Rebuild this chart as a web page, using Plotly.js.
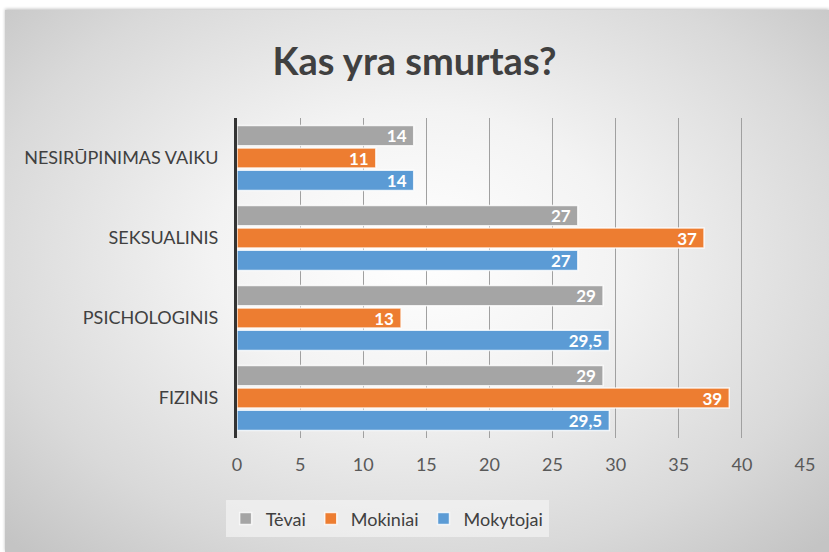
<!DOCTYPE html>
<html>
<head>
<meta charset="utf-8">
<script src="https://cdn.plot.ly/plotly-3.0.1.min.js"></script>
<style>
  html, body { margin: 0; padding: 0; background: #ffffff; }
  #chart {
    position: absolute; left: 0; top: 0; width: 829px; height: 552px;
  }
  #bg {
    position: absolute; left: 5px; top: 10px; width: 824px; height: 542px;
    background: radial-gradient(ellipse 70% 75% at 50% 45%, #ffffff 0%, #f3f3f3 35%, #d9d9d9 75%, #c4c4c4 100%);
    box-shadow: 0 -1px 3px rgba(0,0,0,0.25);
  }
</style>
</head>
<body>
<div id="bg"></div>
<div id="chart"></div>
<script>
  // Categories, bottom to top
  var categories = ['FIZINIS', 'PSICHOLOGINIS', 'SEKSUALINIS', 'NESIRŪPINIMAS VAIKU'];

  // Series values (same order as categories)
  var tevai = [29, 29, 27, 14];
  var mokiniai = [39, 13, 37, 11];
  var mokytojai = [29.5, 29.5, 27, 14];

  var xTicks = [0, 5, 10, 15, 20, 25, 30, 35, 40, 45];

  function makeTrace(name, values, color) {
    return {
      type: 'bar',
      orientation: 'h',
      name: name,
      x: values,
      y: categories,
      marker: {
        color: color,
        line: { color: 'rgba(255,255,255,0.8)', width: 1.5 }
      },
      texttemplate: '%{x}\u00a0',
      textposition: 'inside',
      insidetextanchor: 'end',
      textangle: 0,
      constraintext: 'none',
      textfont: { family: 'Lato, sans-serif', size: 17, color: 'white', weight: 'bold' },
      hoverinfo: 'x+name'
    };
  }

  // first trace is drawn at the bottom of each group
  var data = [
    makeTrace('Mokytojai', mokytojai, '#5b9bd5'),
    makeTrace('Mokiniai', mokiniai, '#ed7d31'),
    makeTrace('Tėvai', tevai, '#a5a5a5')
  ];

  var layout = {
    width: 829,
    height: 552,
    paper_bgcolor: 'rgba(0,0,0,0)',
    plot_bgcolor: 'rgba(0,0,0,0)',
    separators: ',.',
    font: { family: 'Lato, sans-serif', color: '#404040' },
    margin: { l: 237, r: 24, t: 118, b: 114 },
    title: {
      text: 'Kas yra smurtas?',
      font: { family: 'Lato, sans-serif', size: 38, color: '#404040', weight: 'bold' },
      xref: 'container',
      x: 0.5,
      yref: 'container',
      y: 0.888,
      yanchor: 'middle'
    },
    barmode: 'group',
    bargap: 0.16,
    bargroupgap: 0.1,
    xaxis: {
      range: [0, 45],
      tickvals: xTicks,
      showgrid: true,
      gridcolor: '#a0a0a0',
      gridwidth: 1.2,
      zeroline: false,
      ticklabelstandoff: 14,
      tickfont: { size: 18, color: '#595959' }
    },
    yaxis: {
      type: 'category',
      categoryorder: 'array',
      categoryarray: categories,
      showline: true,
      linecolor: '#333333',
      linewidth: 3,
      ticklabelstandoff: 12,
      tickfont: { size: 18, color: '#404040' }
    },
    legend: {
      orientation: 'h',
      traceorder: 'reversed',
      xref: 'container',
      yref: 'container',
      x: 0.467,
      xanchor: 'center',
      y: 0.06,
      yanchor: 'middle',
      bgcolor: 'rgba(242,242,242,0.75)',
      itemwidth: 30,
      font: { size: 18, color: '#404040' }
    }
  };

  Plotly.newPlot('chart', data, layout, { displayModeBar: false });
</script>
</body>
</html>
